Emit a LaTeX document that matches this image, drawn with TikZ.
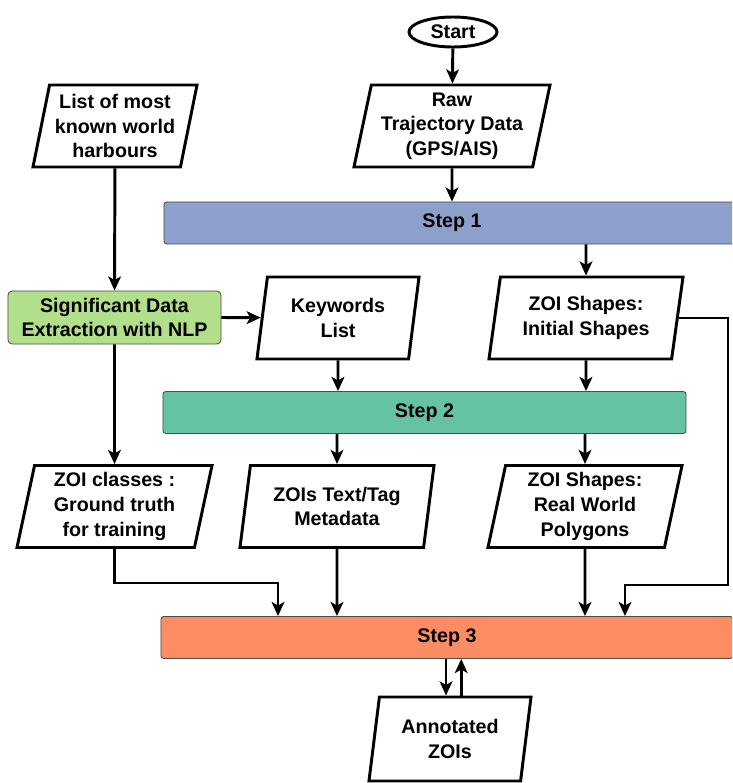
\documentclass[tikz,border=0pt]{standalone}
\usepackage{fontspec}
\setmainfont{Liberation Sans}
\usetikzlibrary{shapes.geometric,arrows.meta}

\definecolor{stepa}{HTML}{8DA0CB}
\definecolor{stepb}{HTML}{66C2A5}
\definecolor{stepc}{HTML}{FC8D62}
\definecolor{nlpgreen}{HTML}{B2DF8A}

\tikzset{
  txt/.style={font=\bfseries\fontsize{14}{17.5}\selectfont, align=center},
  io/.style={txt, trapezium, trapezium left angle=76, trapezium right angle=104,
    trapezium stretches body=true, draw, line width=2.1pt, minimum height=2.05cm, inner sep=1pt},
  term/.style={txt, ellipse, draw, line width=2.1pt, minimum width=2.2cm, minimum height=0.75cm, inner sep=0pt},
  bar/.style={txt, rectangle, rounded corners=2pt, draw=black!70, line width=0.6pt, minimum height=1.05cm},
  proc/.style={txt, rectangle, rounded corners=3pt, draw=black!70, line width=0.6pt, fill=nlpgreen,
    minimum width=5.325cm, minimum height=1.325cm},
  arr/.style={-{Stealth[length=10pt,width=9pt,inset=2.5pt]}, line width=2.1pt}
}

\begin{document}
\begin{tikzpicture}[x=0.025cm, y=-0.025cm]
\clip (0,0) rectangle (732,783);

% nodes
\node[term] (start) at (453,32) {Start};
\node[io, minimum width=4.9cm] (raw) at (452,126) {Raw\\Trajectory Data\\(GPS/AIS)};
\node[io, minimum width=4.1cm] (list) at (115,126) {List of most\\known world\\harbours};
\node[bar, fill=stepa, minimum width=14.4cm] (step1) at (452,223) {Step 1};
\node[proc] (sig) at (114.5,317.5) {Significant Data\\Extraction with NLP};
\node[io, minimum width=4.05cm] (keys) at (338,318) {Keywords\\List};
\node[io, minimum width=4.85cm] (init) at (586,318) {ZOI Shapes:\\Initial Shapes};
\node[bar, fill=stepb, minimum width=13.075cm] (step2) at (424.5,412.5) {Step 2};
\node[io, minimum width=4.875cm] (classes) at (114.5,506.5) {ZOI classes :\\Ground truth\\for training};
\node[io, minimum width=4.85cm] (tags) at (337,506.5) {ZOIs Text/Tag\\Metadata};
\node[io, minimum width=4.85cm] (polys) at (585,506.5) {ZOI Shapes:\\Real World\\Polygons};
\node[bar, fill=stepc, minimum width=14.3cm] (step3) at (447,637.5) {Step 3};
\node[io, minimum width=4.05cm, minimum height=2.1cm] (annot) at (450,739) {Annotated\\ZOIs};

\coordinate (lturn) at (278,583);
\coordinate (rturn) at (728,585);
\coordinate (rin) at (625,585);

% connectors
\draw[arr] (start) -- (raw);
\draw[arr] (raw) -- (raw |- step1.north);
\draw[arr] (step1.south -| init) -- (init);
\draw[arr] (list) -- (sig);
\draw[arr] (sig.east) -- (keys);
\draw[arr] (keys) -- (keys |- step2.north);
\draw[arr] (init) -- (init |- step2.north);
\draw[arr] (sig) -- (classes);
\draw[arr] (step2.south -| tags) -- (tags);
\draw[arr] (step2.south -| polys) -- (polys);
\draw[arr] (classes.south) |- (lturn) -- (lturn |- step3.north);
\draw[arr] (tags) -- (tags |- step3.north);
\draw[arr] (polys) -- (polys |- step3.north);
\draw[arr] (init.east) -| (rturn) -- (rin) -- (rin |- step3.north);
\draw[arr] ([xshift=-0.1cm]annot.north |- step3.south) -- ([xshift=-0.1cm]annot.north);
\draw[arr] ([xshift=0.28cm]annot.north) -- ([xshift=0.28cm]annot.north |- step3.south);
\end{tikzpicture}
\end{document}
